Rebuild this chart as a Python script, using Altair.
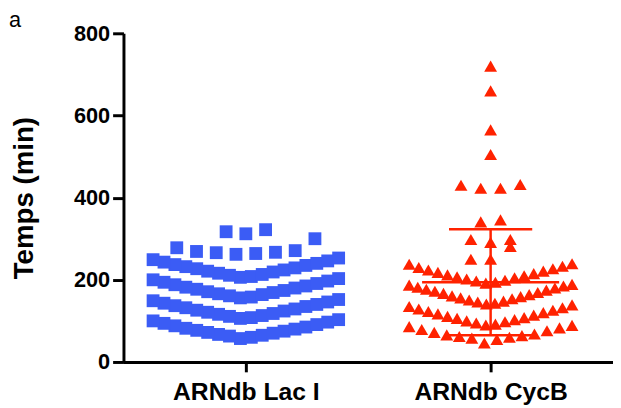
import altair as alt
import numpy as np
import pandas as pd

# ---------------- data ----------------
categories = ["ARNdb Lac I", "ARNdb CycB"]

lac_values = [57, 60, 63, 65, 67, 70, 72, 75, 77, 80, 82, 85, 88, 91, 94, 97, 100, 103,
              106, 108, 111, 113, 116, 118, 121, 124, 126, 129, 132, 135, 137, 140, 143, 146, 149, 152,
              156, 158, 161, 164, 166, 169, 171, 174, 177, 180, 182, 185, 188, 191, 194, 197, 200, 203,
              206, 208, 211, 213, 216, 219, 221, 224, 227, 229, 232, 235, 237, 240, 243, 246, 249, 253,
              262, 264, 266, 267, 269, 271, 278, 300, 312, 317, 322]

cycb_values = [46, 55, 58, 60, 62, 64, 66, 68, 72, 76, 79, 83, 86, 89,
               90, 92, 95, 98, 100, 103, 106, 108, 111, 114, 117, 120, 123, 126, 129, 132, 135, 139,
               141, 143, 146, 148, 151, 154, 156, 159, 161, 164, 167, 169, 172, 175, 177, 180, 182, 185, 187, 189,
               192, 194, 197, 199, 202, 205, 207, 210, 212, 215, 218, 221, 224, 227, 230, 233, 238, 239,
               250, 250, 281, 291, 298, 298, 341, 346, 423, 423, 430, 432, 505, 565, 660, 720]

y_ticks = [0, 200, 400, 600, 800]

# ---------------- style / layout constants ----------------
colors = ["#3B5CF5", "#FF2200"]
W, H = 496, 333
PX = 2.0 / W  # x data units per pixel


def swarm(values, gi, origin, size, row_width):
    """Prism-like scatter layout: bin values into rows, spread each row
    symmetrically with the smallest values in the centre."""
    out = []
    v = np.sort(np.asarray(values, dtype=float))
    bins = np.floor((v - origin) / size).astype(int)
    for b in np.unique(bins):
        vals = v[bins == b]
        n = len(vals)
        sp = min(20.0, row_width / (n - 1)) if n > 1 else 0.0
        ks = np.arange(n) - (n - 1) / 2.0
        order = sorted(range(n), key=lambda i: (abs(ks[i]), ks[i]))
        for val, i in zip(vals, order):
            out.append({"group": categories[gi], "value": val,
                        "center": gi + 0.5,
                        "xpos": gi + 0.5 + ks[i] * sp * PX})
    return out


rows = swarm(lac_values, 0, 55, 50, 188) + swarm(cycb_values, 1, 40, 50, 165)
df = pd.DataFrame(rows)

FONT = "Liberation Sans"
xscale = alt.Scale(domain=[0, 2], nice=False, zero=False)
yscale = alt.Scale(domain=[0, 800], nice=False)

label_expr = f"datum.value < 1 ? '{categories[0]}' : '{categories[1]}'"

x_axis = alt.Axis(values=[0.5, 1.5], labelExpr=label_expr, title=None,
                  labelFontSize=25, labelFont=FONT, labelFontWeight="bold",
                  tickSize=10, labelPadding=8, grid=False)
y_axis = alt.Axis(values=y_ticks, title="Temps (min)", titleFontSize=28,
                  titleFont=FONT, titleFontWeight="bold", titlePadding=35,
                  labelFontSize=22, labelFont=FONT, labelFontWeight="bold",
                  tickSize=11, labelPadding=3, grid=False)

base = alt.Chart(df)

blue = base.transform_filter(alt.datum.group == categories[0]).mark_square(
    size=169, opacity=1, color=colors[0]
).encode(
    x=alt.X("xpos:Q", scale=xscale, axis=x_axis),
    y=alt.Y("value:Q", scale=yscale, axis=y_axis),
)

red = base.transform_filter(alt.datum.group == categories[1]).mark_point(
    shape="triangle-up", filled=True, size=169, opacity=1, color=colors[1]
).encode(
    x=alt.X("xpos:Q", scale=xscale),
    y=alt.Y("value:Q", scale=yscale),
)

stats = base.transform_filter(alt.datum.group == categories[1]).transform_aggregate(
    m="mean(value)", sd="stdev(value)", c="min(center)"
).transform_calculate(
    hi="datum.m + datum.sd", lo="datum.m - datum.sd",
    capL="datum.c - 0.17", capR="datum.c + 0.17",
    meanL="datum.c - 0.28", meanR="datum.c + 0.28",
)

err_v = stats.mark_rule(color=colors[1], strokeWidth=2.5).encode(
    x=alt.X("c:Q", scale=xscale), y=alt.Y("lo:Q", scale=yscale), y2="hi:Q")
cap_hi = stats.mark_rule(color=colors[1], strokeWidth=2.5).encode(
    x=alt.X("capL:Q", scale=xscale), x2="capR:Q", y=alt.Y("hi:Q", scale=yscale))
cap_lo = stats.mark_rule(color=colors[1], strokeWidth=2.5).encode(
    x=alt.X("capL:Q", scale=xscale), x2="capR:Q", y=alt.Y("lo:Q", scale=yscale))
mean_l = stats.mark_rule(color=colors[1], strokeWidth=2.5).encode(
    x=alt.X("meanL:Q", scale=xscale), x2="meanR:Q", y=alt.Y("m:Q", scale=yscale))

chart = alt.layer(blue, red, err_v, cap_hi, cap_lo, mean_l).properties(
    width=W, height=H,
    autosize=alt.AutoSizeParams(type="none"),
    padding={"left": 117, "top": 23, "right": 0, "bottom": 44},
    title=alt.TitleParams(text="a", anchor="start", frame="group", font=FONT,
                          fontSize=22, fontWeight="normal", color="black",
                          dx=-116, dy=14),
).configure_view(stroke=None).configure_axis(
    domainColor="black", domainWidth=3, tickColor="black", tickWidth=3,
    labelColor="black", titleColor="black",
)

chart.save("out.html", embed_options={"renderer": "svg", "actions": False})
